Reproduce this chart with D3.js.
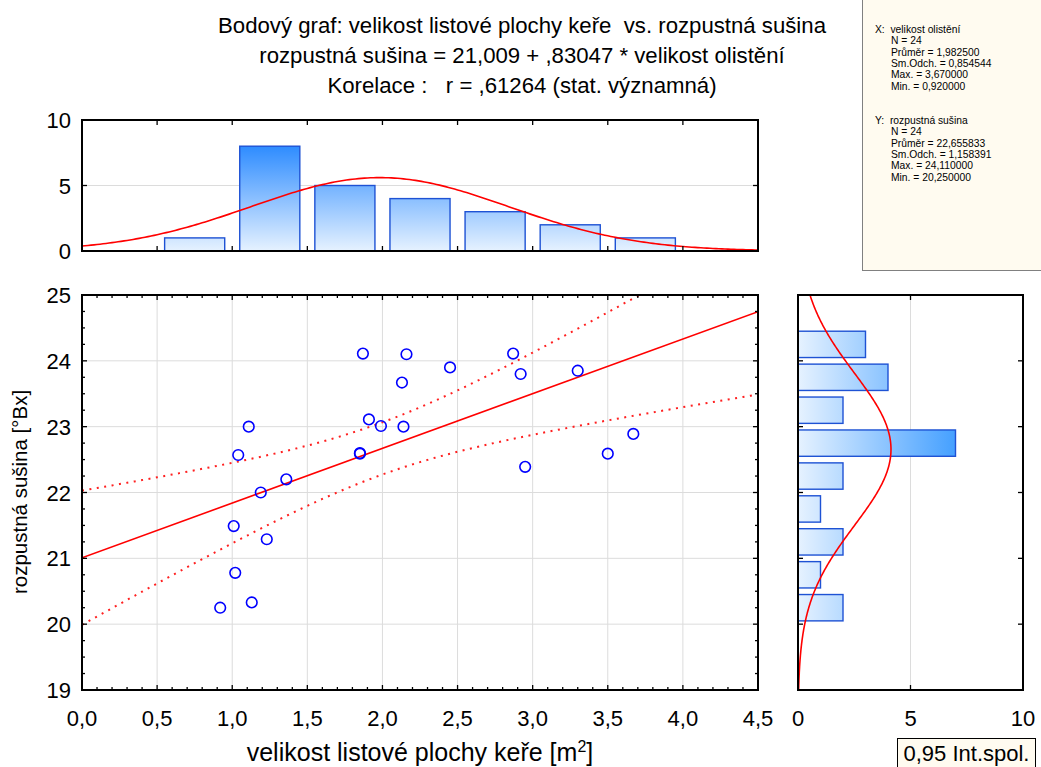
<!DOCTYPE html>
<html><head><meta charset="utf-8">
<script src="https://cdn.jsdelivr.net/npm/d3@7"></script>
<style>
body{margin:0;background:#fff;}
text{font-family:"Liberation Sans",Arial,sans-serif;white-space:pre;}
</style></head><body>
<svg id="c" width="1041" height="767"></svg>
<script>
// ---- data ----
const xVals = [1.87,2.16,2.13,1.91,1.99,2.14,1.11,1.04,1.85,1.85,1.36,1.19,1.01,1.23,1.02,0.92,1.13,2.45,2.87,2.92,3.30,3.67,3.50,2.95];
const yVals = [24.11,24.10,23.67,23.11,23.01,23.00,23.00,22.57,22.59,22.60,22.20,22.00,21.49,21.29,20.78,20.25,20.33,23.90,24.11,23.80,23.85,22.89,22.59,22.39];
const xBinStarts = [0.5,1.0,1.5,2.0,2.5,3.0,3.5];
const xBinCounts = [1,8,5,4,3,2,1];
const yBinStarts = [20.0,20.5,21.0,21.5,22.0,22.5,23.0,23.5,24.0];
const yBinCounts = [2,1,2,1,2,7,2,4,3];
const xTicks = [0,0.5,1,1.5,2,2.5,3,3.5,4,4.5];
const yTicks = [19,20,21,22,23,24,25];
const histTicks = [0,5,10];
const intercept = 21.009, slope = 0.83047;
const statsX = {n:24, mean:1.9825, sd:0.854544, max:3.67, min:0.92};
const statsY = {n:24, mean:22.655833, sd:1.158391, max:24.11, min:20.25};
const titleLines = ["Bodový graf: velikost listové plochy keře  vs. rozpustná sušina",
  "rozpustná sušina = 21,009 + ,83047 * velikost olistění",
  "Korelace :   r = ,61264 (stat. významná)"];
const statLinesX = ["X:  velikost olistění","N = 24","Průměr = 1,982500","Sm.Odch. = 0,854544","Max. = 3,670000","Min. = 0,920000"];
const statLinesY = ["Y:  rozpustná sušina","N = 24","Průměr = 22,655833","Sm.Odch. = 1,158391","Max. = 24,110000","Min. = 20,250000"];
const rCorr = 0.61264, tCrit = 2.0739;

const svg = d3.select("#c");
const fmt1 = d => d.toFixed(1).replace('.', ',');

// scales
const x = d3.scaleLinear().domain([0,4.5]).range([82,758]);
const y = d3.scaleLinear().domain([19,25]).range([690,295]);
const hy = d3.scaleLinear().domain([0,10]).range([251,120]);
const hx = d3.scaleLinear().domain([0,10]).range([798,1023]);

const defs = svg.append("defs");
const g1 = defs.append("linearGradient").attr("id","gv").attr("gradientUnits","userSpaceOnUse")
  .attr("x1",0).attr("x2",0).attr("y1",hy(0)).attr("y2",hy(8));
g1.append("stop").attr("offset",0).attr("stop-color","#e6f2ff");
g1.append("stop").attr("offset",1).attr("stop-color","#2e8cff");
const g2 = defs.append("linearGradient").attr("id","gh").attr("gradientUnits","userSpaceOnUse")
  .attr("y1",0).attr("y2",0).attr("x1",hx(0)).attr("x2",hx(7));
g2.append("stop").attr("offset",0).attr("stop-color","#e6f2ff");
g2.append("stop").attr("offset",1).attr("stop-color","#45a0ff");
defs.append("clipPath").attr("id","clipMain").append("rect").attr("x",82).attr("y",295).attr("width",676).attr("height",395);
defs.append("clipPath").attr("id","clipTop").append("rect").attr("x",82).attr("y",120).attr("width",676).attr("height",131);
defs.append("clipPath").attr("id","clipRight").append("rect").attr("x",798).attr("y",295).attr("width",225).attr("height",395);

// title
svg.selectAll("text.title").data(titleLines).enter().append("text")
  .attr("x",522).attr("y",(d,i)=>33+i*29.8).attr("text-anchor","middle")
  .attr("font-size",22.2).attr("fill","#000").text(d=>d);

// stats box
svg.append("rect").attr("x",862.5).attr("y",-2).attr("width",200).attr("height",272.5)
  .attr("fill","#fffbf0").attr("stroke","#808080").attr("stroke-width",1);
statLinesX.forEach((t,i)=>svg.append("text").attr("x",i?891:875).attr("y",33+i*11.3).attr("font-size",10.3).text(t));
statLinesY.forEach((t,i)=>svg.append("text").attr("x",i?891:875).attr("y",124+i*11.3).attr("font-size",10.3).text(t));

const gridCol = "#dcdcdc";
// ===== main scatter =====
const m = svg.append("g");
m.selectAll("line.gv").data(xTicks.slice(1,-1)).enter().append("line")
  .attr("x1",d=>x(d)).attr("x2",d=>x(d)).attr("y1",295).attr("y2",690).attr("stroke",gridCol);
m.selectAll("line.gh").data(yTicks.slice(1,-1)).enter().append("line")
  .attr("y1",d=>y(d)).attr("y2",d=>y(d)).attr("x1",82).attr("x2",758).attr("stroke",gridCol);

// regression and confidence band
const xm = statsX.mean, n = statsX.n;
const Sxx = (n-1)*statsX.sd*statsX.sd;
const Syy = (n-1)*statsY.sd*statsY.sd;
const sRes = Math.sqrt(Syy*(1-rCorr*rCorr)/(n-2));
const xs = d3.range(0,4.5001,0.05);
const pred = v => intercept + slope*v;
const hw = v => tCrit*sRes*Math.sqrt(1/n + (v-xm)*(v-xm)/Sxx);
const lineGen = d3.line().x(d=>x(d[0])).y(d=>y(d[1]));
const cm = m.append("g").attr("clip-path","url(#clipMain)");
cm.append("path").attr("d",lineGen(xs.map(v=>[v,pred(v)+hw(v)]))).attr("fill","none")
  .attr("stroke","#ff2020").attr("stroke-width",2).attr("stroke-dasharray","2 5.5");
cm.append("path").attr("d",lineGen(xs.map(v=>[v,pred(v)-hw(v)]))).attr("fill","none")
  .attr("stroke","#ff2020").attr("stroke-width",2).attr("stroke-dasharray","2 5.5");
cm.append("path").attr("d",lineGen([[0,pred(0)],[4.5,pred(4.5)]])).attr("fill","none")
  .attr("stroke","#ff0000").attr("stroke-width",1.6);
cm.selectAll("circle").data(xVals.map((v,i)=>[v,yVals[i]])).enter().append("circle")
  .attr("cx",d=>x(d[0])).attr("cy",d=>y(d[1])).attr("r",5.3)
  .attr("fill","none").attr("stroke","#0000ff").attr("stroke-width",1.6);

// frame & ticks main
function frame(g,x0,y0,x1,y1){
  g.append("rect").attr("x",x0).attr("y",y0).attr("width",x1-x0).attr("height",y1-y0)
   .attr("fill","none").attr("stroke","#000").attr("stroke-width",2);
}
frame(m,82,295,758,690);
const xMinor = d3.range(0,4.5001,0.1);
xMinor.forEach(v=>{
  const major = Math.abs(v*2-Math.round(v*2))<1e-6;
  const L = major?5:3;
  m.append("line").attr("x1",x(v)).attr("x2",x(v)).attr("y1",690).attr("y2",690-L).attr("stroke","#000").attr("stroke-width",1.3);
  m.append("line").attr("x1",x(v)).attr("x2",x(v)).attr("y1",295).attr("y2",295+L).attr("stroke","#000").attr("stroke-width",1.3);
});
d3.range(19,25.001,0.25).forEach(v=>{
  const major = Math.abs(v-Math.round(v))<1e-6;
  const L = major?5:3;
  m.append("line").attr("y1",y(v)).attr("y2",y(v)).attr("x1",82).attr("x2",82+L).attr("stroke","#000").attr("stroke-width",1.3);
  m.append("line").attr("y1",y(v)).attr("y2",y(v)).attr("x1",758).attr("x2",758-L).attr("stroke","#000").attr("stroke-width",1.3);
});
m.selectAll("text.xt").data(xTicks).enter().append("text").attr("x",d=>x(d)).attr("y",726)
  .attr("text-anchor","middle").attr("font-size",22).text(fmt1);
m.selectAll("text.yt").data(yTicks).enter().append("text").attr("x",71).attr("y",d=>y(d)+8)
  .attr("text-anchor","end").attr("font-size",22).text(d=>d);

// axis titles
const xl = svg.append("text").attr("x",420).attr("y",761).attr("text-anchor","middle").attr("font-size",25);
xl.append("tspan").text("velikost listové plochy keře [m");
xl.append("tspan").attr("dy",-9).attr("font-size",16).text("2");
xl.append("tspan").attr("dy",9).text("]");
svg.append("text").attr("transform","translate(27,492) rotate(-90)").attr("text-anchor","middle")
  .attr("font-size",20.5).text("rozpustná sušina [°Bx]");

// ===== top histogram =====
const t = svg.append("g");
t.append("line").attr("x1",82).attr("x2",758).attr("y1",hy(5)).attr("y2",hy(5)).attr("stroke",gridCol);
t.selectAll("rect.b").data(xBinStarts).enter().append("rect")
  .attr("x",d=>x(d+0.05)).attr("width",d=>x(d+0.45)-x(d+0.05))
  .attr("y",(d,i)=>hy(xBinCounts[i])).attr("height",(d,i)=>hy(0)-hy(xBinCounts[i]))
  .attr("fill","url(#gv)").attr("stroke","#1e52d4").attr("stroke-width",1.4);
const nx = d3.range(0,4.5001,0.02);
const pdf = (v,mu,sd)=>Math.exp(-0.5*((v-mu)/sd)**2)/(sd*Math.sqrt(2*Math.PI));
t.append("g").attr("clip-path","url(#clipTop)").append("path")
  .attr("d",d3.line().x(d=>x(d)).y(d=>hy(statsX.n*0.5*pdf(d,statsX.mean,statsX.sd)))(nx))
  .attr("fill","none").attr("stroke","#ff0000").attr("stroke-width",1.6);
frame(t,82,120,758,251);
xTicks.forEach(v=>{
  t.append("line").attr("x1",x(v)).attr("x2",x(v)).attr("y1",251).attr("y2",246).attr("stroke","#000").attr("stroke-width",1.3);
  t.append("line").attr("x1",x(v)).attr("x2",x(v)).attr("y1",120).attr("y2",125).attr("stroke","#000").attr("stroke-width",1.3);
});
histTicks.forEach(v=>{
  t.append("line").attr("y1",hy(v)).attr("y2",hy(v)).attr("x1",82).attr("x2",87).attr("stroke","#000").attr("stroke-width",1.3);
  t.append("line").attr("y1",hy(v)).attr("y2",hy(v)).attr("x1",758).attr("x2",753).attr("stroke","#000").attr("stroke-width",1.3);
});
t.selectAll("text.ht").data(histTicks).enter().append("text").attr("x",71).attr("y",d=>hy(d)+8)
  .attr("text-anchor","end").attr("font-size",22).text(d=>d);

// ===== right histogram =====
const r = svg.append("g");
r.append("line").attr("x1",hx(5)).attr("x2",hx(5)).attr("y1",295).attr("y2",690).attr("stroke",gridCol);
r.selectAll("rect.b").data(yBinStarts).enter().append("rect")
  .attr("y",d=>y(d+0.45)).attr("height",d=>y(d+0.05)-y(d+0.45))
  .attr("x",hx(0)).attr("width",(d,i)=>hx(yBinCounts[i])-hx(0))
  .attr("fill","url(#gh)").attr("stroke","#1e52d4").attr("stroke-width",1.4);
const ny = d3.range(19,25.0001,0.02);
r.append("g").attr("clip-path","url(#clipRight)").append("path")
  .attr("d",d3.line().y(d=>y(d)).x(d=>hx(statsY.n*0.5*pdf(d,statsY.mean,statsY.sd)))(ny))
  .attr("fill","none").attr("stroke","#ff0000").attr("stroke-width",1.6);
frame(r,798,295,1023,690);
yTicks.forEach(v=>{
  r.append("line").attr("y1",y(v)).attr("y2",y(v)).attr("x1",798).attr("x2",803).attr("stroke","#000").attr("stroke-width",1.3);
  r.append("line").attr("y1",y(v)).attr("y2",y(v)).attr("x1",1023).attr("x2",1018).attr("stroke","#000").attr("stroke-width",1.3);
});
histTicks.forEach(v=>{
  r.append("line").attr("x1",hx(v)).attr("x2",hx(v)).attr("y1",690).attr("y2",685).attr("stroke","#000").attr("stroke-width",1.3);
  r.append("line").attr("x1",hx(v)).attr("x2",hx(v)).attr("y1",295).attr("y2",300).attr("stroke","#000").attr("stroke-width",1.3);
});
r.selectAll("text.rt").data(histTicks).enter().append("text").attr("x",d=>hx(d)).attr("y",726)
  .attr("text-anchor","middle").attr("font-size",22).text(d=>d);

// Int.spol box
svg.append("rect").attr("x",897.5).attr("y",738.5).attr("width",138).attr("height",32)
  .attr("fill","#fffbf0").attr("stroke","#000").attr("stroke-width",1);
svg.append("text").attr("x",966.5).attr("y",761).attr("text-anchor","middle").attr("font-size",22).text("0,95 Int.spol.");
</script>
</body></html>
